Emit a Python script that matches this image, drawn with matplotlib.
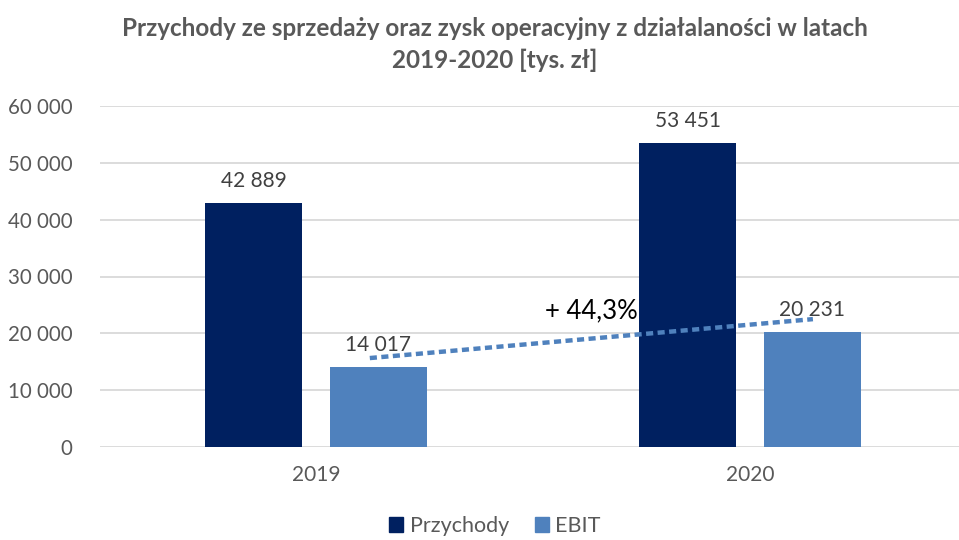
import matplotlib
matplotlib.use("Agg")
import matplotlib.pyplot as plt
from matplotlib.patches import Patch
import numpy as np

plt.rcParams['font.family'] = ['Lato', 'DejaVu Sans']

years = ["2019", "2020"]
przychody = [42889, 53451]
ebit = [14017, 20231]
series_names = ["Przychody", "EBIT"]
yticks = [0, 10000, 20000, 30000, 40000, 50000, 60000]
growth_label = "+ 44,3%"
trend_y = [15650, 22500]

def fmt(v):
    return f"{v:,}".replace(",", " ")

W, H = 959, 540
fig = plt.figure(figsize=(W / 100, H / 100), dpi=100)
ax = fig.add_axes([100 / W, (H - 447) / H, (W - 100) / W, (447 - 106) / H])

navy = "#002060"
light = "#4F81BD"
gray = "#595959"

x = np.arange(len(years))
bw = 0.2235
off = 0.143
ax.bar(x - off, przychody, bw, color=navy, zorder=3)
ax.bar(x + off, ebit, bw, color=light, zorder=3)

for xi, v in zip(x - off, przychody):
    ax.annotate(fmt(v), (xi, v), xytext=(0, 9), textcoords="offset points",
                ha="center", va="bottom", fontsize=15, color="#404040")
for xi, v in zip(x + off, ebit):
    ax.annotate(fmt(v), (xi, v), xytext=(0, 9), textcoords="offset points",
                ha="center", va="bottom", fontsize=15, color="#404040")

ax.set_xlim(-0.4977, 1.4816)
ax.set_ylim(0, 60000)
ax.set_yticks(yticks)
ax.set_yticklabels([fmt(t) for t in yticks], fontsize=14.8, color=gray)
ax.set_xticks(x)
ax.set_xticklabels(years, fontsize=15, color=gray)
ax.tick_params(axis="both", length=0)
ax.tick_params(axis="y", pad=20)
ax.tick_params(axis="x", pad=13)
ax.grid(axis="y", color="#D9D9D9", linewidth=1.3, zorder=0)
for s in ax.spines.values():
    s.set_visible(False)

# trend line annotation
ax.plot([0.124, 1.145], trend_y, color=light, lw=3.2,
        linestyle=(0, (1.6, 1.0)), dash_capstyle="butt", zorder=4)
ax.text(0.634, 22700, growth_label, fontsize=18.5, color="black",
        ha="center", va="baseline", zorder=5)

fig.text(495 / W, 1 - 28 / H, "Przychody ze sprzedaży oraz zysk operacyjny z działalaności w latach",
         ha="center", va="center", fontsize=17.5, fontweight="bold", color=gray)
fig.text(495 / W, 1 - 60 / H, "2019-2020 [tys. zł]",
         ha="center", va="center", fontsize=17.5, fontweight="bold", color=gray)

handles = [Patch(color=navy), Patch(color=light)]
fig.legend(handles, series_names, loc="center", bbox_to_anchor=(495 / W, 1 - 526 / H),
           ncol=2, frameon=False, fontsize=15.5, labelcolor=gray,
           handlelength=0.65, handleheight=0.65, handletextpad=0.3, columnspacing=1.2)

fig.savefig("out.png", dpi=100)
